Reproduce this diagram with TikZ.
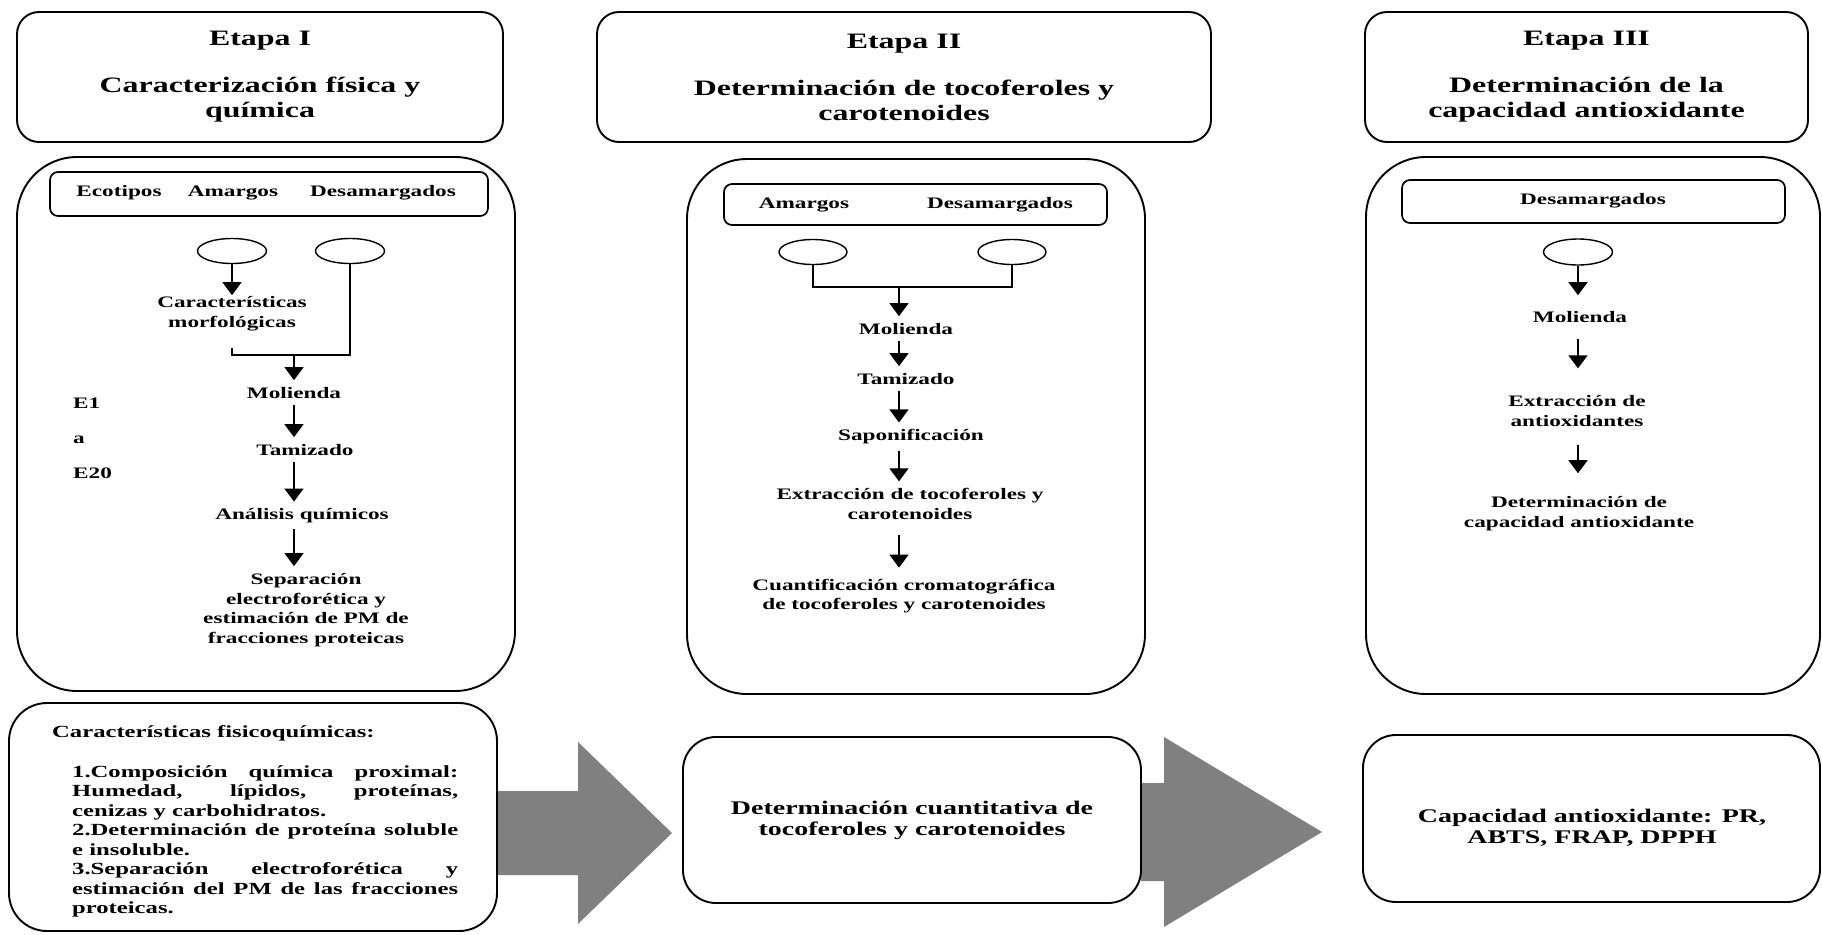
\documentclass[tikz,border=0pt]{standalone}
\usepackage{fontspec}
\setmainfont{Liberation Serif}[FakeStretch=1.45]
\usetikzlibrary{arrows.meta,shapes.geometric,positioning}

\definecolor{grisflecha}{RGB}{128,128,128}
\newcommand{\fuentetit}{\bfseries\fontsize{22}{25}\selectfont}
\newcommand{\fuentepaso}{\bfseries\fontsize{16}{19.6}\selectfont}
\newcommand{\fuentelista}{\bfseries\fontsize{17}{19.5}\selectfont}
\newcommand{\fuenteres}{\bfseries\fontsize{19.3}{21}\selectfont}

\begin{document}
\begin{tikzpicture}[x=1pt,y=-1pt,
  etapa/.style={draw,line width=1.9pt,rounded corners=22pt,align=center,font=\fuentetit,minimum height=130pt},
  panel/.style={draw,line width=1.9pt,rounded corners=60pt},
  cabecera/.style={draw,line width=1.7pt,rounded corners=8pt},
  ovalo/.style={draw,ellipse,line width=1.4pt,minimum width=69pt,minimum height=25pt,inner sep=0pt},
  paso/.style={align=center,inner sep=1pt,font=\fuentepaso},
  flecha/.style={-{Triangle[width=19pt,length=13pt]},line width=1.4pt,shorten <=5pt,shorten >=6pt},
  linea/.style={line width=1.4pt},
  resultado/.style={draw,line width=1.9pt,rounded corners=33pt,fill=white,align=center,font=\fuenteres},
  grande/.style={fill=grisflecha}]
  \useasboundingbox (0,0) rectangle (1822,934);

  % flechas grises
  \coordinate (a1) at (497,833);
  \fill[grande] (a1) ++(0,-42) -- ++(81,0) -- ++(0,-49) -- ++(94,91) -- ++(-94,91) -- ++(0,-49) -- ++(-81,0) -- cycle;
  \coordinate (a2) at (1141,832);
  \fill[grande] (a2) ++(0,-49) -- ++(23,0) -- ++(0,-46) -- ++(158,95) -- ++(-158,95) -- ++(0,-46) -- ++(-23,0) -- cycle;

  % etapas
  \node[etapa,minimum width=486pt] (t1) at (260,77) {Etapa I\\[22pt]Caracterización física y\\química};
  \node[etapa,minimum width=614pt] (t2) at (904,77) {Etapa II\\[22pt]Determinación de tocoferoles y\\carotenoides};
  \node[etapa,minimum width=443pt] (t3) at (1586.5,77) {Etapa III\\[22pt]Determinación de la\\capacidad antioxidante};

  % paneles
  \node[panel,minimum width=498pt,minimum height=534pt] (p1) at (266,424) {};
  \node[panel,minimum width=458pt,minimum height=535pt] (p2) at (916,426.5) {};
  \node[panel,minimum width=454pt,minimum height=537pt] (p3) at (1593,425.5) {};

  % etapa I
  \node[cabecera,minimum width=438pt,minimum height=44pt] (h1) at (269,194) {};
  \node[paso] (eco) at (119,193) {Ecotipos};
  \node[paso] (ama1) at (233,193) {Amargos};
  \node[paso] (des1) at (383,193) {Desamargados};
  \node[ovalo] (e1) at (232,251) {};
  \node[ovalo] (e2) at (350,251) {};
  \node[paso] (morf) at (232,313.5) {Características\\morfológicas};
  \coordinate (j1) at (294,355);
  \node[paso] (moli1) at (294,393) {Molienda};
  \node[paso] (tami1) at (305,450) {Tamizado};
  \node[paso] (anal1) at (302,516) {Análisis químicos};
  \node[paso] (sepa1) at (306,610) {Separación\\electroforética y\\estimación de PM de\\fracciones proteicas};
  \node[paso,align=left,anchor=west] (etq) at (72,438) {E1\\[15.4pt]a\\[15.4pt]E20};

  \draw[flecha,shorten <=0pt,shorten >=0pt] (e1) -- (morf);
  \draw[linea] (morf.south) ++(0,16) |- (j1) -| (e2.south);
  \draw[flecha,shorten <=0pt] (j1) -- (moli1);
  \draw[flecha] (moli1) -- (moli1 |- tami1.north);
  \draw[flecha] (tami1.south -| moli1) -- (anal1.north -| moli1);
  \draw[flecha] (anal1.south -| moli1) -- (sepa1.north -| moli1);

  % etapa II
  \node[cabecera,minimum width=383pt,minimum height=41pt] (h2) at (915.5,204.5) {};
  \node[paso] (ama2) at (804,205) {Amargos};
  \node[paso] (des2) at (1000,205) {Desamargados};
  \node[ovalo,minimum width=68pt] (f1) at (813,252) {};
  \node[ovalo,minimum width=68pt] (f2) at (1012,252) {};
  \coordinate (j2) at (899,287);
  \node[paso] (moli2) at (906,329) {Molienda};
  \node[paso] (tami2) at (906,379) {Tamizado};
  \node[paso] (sapo2) at (911,437) {Saponificación};
  \node[paso] (extr2) at (910,504) {Extracción de tocoferoles y\\carotenoides};
  \node[paso] (cuan2) at (904,596) {Cuantificación cromatográfica\\de tocoferoles y carotenoides};

  \draw[linea] (f1.south) |- (j2) -| (f2.south);
  \draw[flecha,shorten <=0pt] (j2) -- (j2 |- moli2.north);
  \draw[flecha] (moli2.south -| j2) -- (tami2.north -| j2);
  \draw[flecha] (tami2.south -| j2) -- (sapo2.north -| j2);
  \draw[flecha] (sapo2.south -| j2) -- (extr2.north -| j2);
  \draw[flecha,shorten <=14pt,shorten >=10pt] (extr2.south -| j2) -- (cuan2.north -| j2);

  % etapa III
  \node[cabecera,minimum width=383pt,minimum height=43pt] (h3) at (1593.5,201.5) {};
  \node[paso] (des3) at (1593,201) {Desamargados};
  \node[ovalo,minimum height=26pt] (g1) at (1578,252) {};
  \node[paso] (moli3) at (1580,317) {Molienda};
  \node[paso] (extr3) at (1577,411) {Extracción de\\antioxidantes};
  \node[paso] (dete3) at (1579,513.5) {Determinación de\\capacidad antioxidante};

  \draw[flecha,shorten <=0pt,shorten >=15pt] (g1) -- (g1 |- moli3.north);
  \draw[flecha,shorten <=15pt,shorten >=26pt] (moli3.south -| g1) -- (extr3.north -| g1);
  \draw[flecha,shorten <=17pt,shorten >=22pt] (extr3.south -| g1) -- (dete3.north -| g1);

  % resultados
  \node[draw,line width=1.9pt,rounded corners=38pt,fill=white,minimum width=488pt,minimum height=228pt] (b1) at (253,817) {};
  \node[anchor=west,inner sep=0pt,font=\fuentelista] (b1tit) at (52,733) {Características fisicoquímicas:};
  \node[anchor=north west,inner sep=0pt,font=\fuentelista,text width=386pt,align=justify] (b1lis) at (72,765)
    {\parindent=0pt\hyphenpenalty=10000\tolerance=10000
     1.Composición química proximal:\linebreak Humedad, lípidos, proteínas,\linebreak cenizas y carbohidratos.\par
     2.Determinación de proteína soluble\linebreak e insoluble.\par
     3.Separación electroforética y\linebreak estimación del PM de las fracciones\linebreak proteicas.};
  \node[resultado,minimum width=458pt,minimum height=166pt] (b2) at (912,820) {Determinación cuantitativa de\\tocoferoles y carotenoides};
  \node[resultado,minimum width=457pt,minimum height=167pt] (b3) at (1591.5,818.5) {};
  \node[font=\fuenteres,align=center] (b3txt) at (1592,828) {Capacidad antioxidante: PR,\\ABTS, FRAP, DPPH};
\end{tikzpicture}
\end{document}
